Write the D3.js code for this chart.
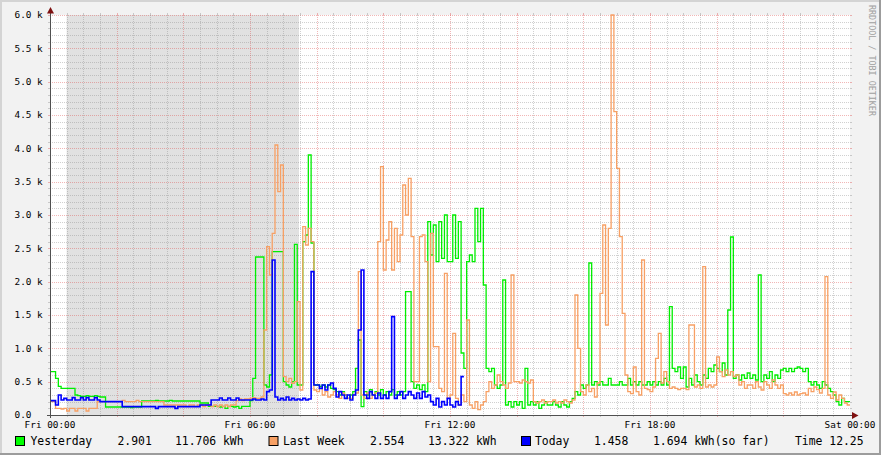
<!DOCTYPE html>
<html><head><meta charset="utf-8">
<script src="https://cdn.jsdelivr.net/npm/d3@7/dist/d3.min.js"></script>
<style>html,body{margin:0;padding:0;background:#f2f2f2}svg{display:block}</style>
</head><body>
<svg id="chart" width="881" height="455"></svg>
<script>
// ---- data (watts, one value per 5 minutes; rows = hours) ----
const yesterday = [
 650,650,550,430,400,400,400,400,400,300,290,280,
 280,290,280,280,290,280,270,270,120,120,120,120,
 120,120,120,120,120,110,120,120,120,210,210,210,
 210,210,220,210,210,210,210,220,210,210,210,210,
 210,210,210,210,210,210,180,180,180,130,130,130,
 130,120,130,100,130,130,120,130,100,130,130,130,
 215,550,2370,2370,2370,450,420,600,2450,2450,2450,2450,
 500,450,420,500,2560,450,450,2600,2700,3900,2580,450,
 450,430,450,420,450,400,380,350,300,350,300,250,
 300,350,700,1125,125,350,300,380,300,350,300,380,
 300,350,300,380,300,350,300,350,1850,1850,500,400,
 450,380,450,350,2900,2400,2850,2300,2900,2350,3000,2300,
 2300,3000,2350,2900,930,700,2300,2400,2300,3100,2600,3100,
 1950,700,650,700,450,400,450,2025,150,200,120,200,
 150,200,100,700,150,200,150,200,100,150,200,150,
 150,200,150,120,200,150,120,200,250,350,300,450,
 400,450,2280,450,500,450,500,450,450,550,450,450,
 450,500,450,450,550,450,500,450,500,450,450,500,
 450,500,450,500,450,550,450,1625,700,650,720,550,
 720,420,550,450,600,500,450,600,550,700,650,750,
 700,650,780,600,1575,2670,550,600,525,600,550,630,
 550,600,525,2100,500,600,550,650,500,600,550,675,
 700,650,700,650,700,720,700,650,700,500,450,500,
 450,400,500,450,400,350,300,200,150,250,200,200
];
const lastWeek = [
 200,200,100,100,90,100,60,100,100,60,100,100,
 100,60,100,100,100,200,200,200,200,200,200,200,
 200,200,220,200,200,200,200,220,200,200,200,200,
 200,200,200,200,200,150,150,150,150,150,150,150,
 150,125,150,150,125,150,150,125,150,150,125,150,
 125,150,125,150,125,150,150,215,240,215,240,240,
 250,260,250,250,270,1275,2525,2100,2725,4050,3350,3750,
 575,500,550,475,500,1700,375,2825,2550,2800,2600,375,
 350,400,300,350,270,300,350,300,250,330,300,250,
 250,300,330,2150,300,250,330,250,300,330,2600,3725,
 2175,2625,2900,2175,2800,2300,2700,3450,3000,3550,2675,500,
 500,2675,2700,2300,500,2725,1025,1025,400,350,2125,250,
 300,1225,250,150,300,200,1425,150,100,200,80,150,
 200,350,500,400,450,600,500,450,400,480,2100,500,
 500,480,525,500,480,525,200,180,200,225,180,200,
 200,225,180,200,180,225,200,180,225,1800,1000,350,
 300,450,350,400,270,480,1825,2850,1350,2800,6000,4550,
 3700,2675,1525,600,350,320,720,350,300,2325,400,380,
 350,420,850,1225,480,650,500,400,420,400,380,400,
 400,380,1350,1350,420,450,400,2225,420,450,420,450,
 870,650,575,675,600,650,575,600,450,500,400,450,
 450,400,500,420,375,500,450,400,525,450,400,450,
 320,300,330,300,345,300,320,330,300,400,350,420,
 380,330,400,2075,300,250,345,225,300,250,180,150
];
const today = [
 215,215,150,300,225,250,225,225,260,225,225,260,
 225,260,225,225,260,225,200,200,200,200,200,200,
 200,200,125,125,125,125,125,125,125,125,125,125,
 125,125,100,125,125,125,125,125,125,100,125,125,
 125,125,125,125,125,125,150,150,150,150,225,225,
 225,255,225,225,255,225,225,255,225,225,225,225,
 225,240,225,225,240,225,350,375,2325,270,225,250,
 225,270,225,250,225,240,225,250,225,240,2150,450,
 450,400,450,375,450,480,400,270,350,300,250,300,
 225,300,375,1275,2175,300,250,350,300,250,330,250,
 300,250,350,1475,250,300,350,250,300,350,300,250,
 330,250,350,270,300,200,150,250,120,200,150,250,
 150,120,200,150,575
];
const stepHours = 5 / 60;
const nightShade = [0.5, 7.47];             // hours
const yTickValues = [0,500,1000,1500,2000,2500,3000,3500,4000,4500,5000,5500,6000];
const yTickLabels = ["0.0","0.5 k","1.0 k","1.5 k","2.0 k","2.5 k","3.0 k","3.5 k","4.0 k","4.5 k","5.0 k","5.5 k","6.0 k"];
const xTickHours = [0,6,12,18,24];
const xTickLabels = ["Fri 00:00","Fri 06:00","Fri 12:00","Fri 18:00","Sat 00:00"];
const seriesNames = ["Yesterday","Last Week","Today"];
const seriesColors = ["#00ee00","#f7a064","#0000ff"];
const legendColors = ["#00ff00","#f7a064","#0000ff"];
const legendValues = [["2.901","11.706 kWh"],["2.554","13.322 kWh"],["1.458","1.694 kWh(so far)"]];
const timeLabel = "Time 12.25";
const watermark = "RRDTOOL / TOBI OETIKER";

// ---- drawing ----
const W = 881, H = 455;
const svg = d3.select("#chart");
const mono = "'DejaVu Sans Mono', monospace";
const x = d3.scaleLinear().domain([0, 24]).range([50, 850]);
const y = d3.scaleLinear().domain([0, 6000]).range([415, 15]);

// background + 3D border
svg.append("rect").attr("width", W).attr("height", H).attr("fill", "#f2f2f2");
svg.append("path").attr("d", `M0,0H${W}V2H2V${H}H0Z`).attr("fill", "#d4d4d4");
svg.append("path").attr("d", `M${W},${H}H0V${H-2}H${W-2}V0H${W}Z`).attr("fill", "#9c9c9c");

// canvas
svg.append("rect").attr("x", x(0)).attr("y", y(6000)).attr("width", x(24) - x(0)).attr("height", y(0) - y(6000)).attr("fill", "#ffffff");
// night shading
svg.append("rect").attr("x", x(nightShade[0])).attr("y", y(6000))
  .attr("width", x(nightShade[1]) - x(nightShade[0])).attr("height", y(0) - y(6000)).attr("fill", "#e1e1e1");

const px = v => Math.round(v) + 0.5;
const minorCol = "rgba(143,143,143,0.42)", majorCol = "rgba(222,80,80,0.42)";
const g = svg.append("g");
// horizontal grid
d3.range(100, 6001, 100).forEach(v => {
  const major = v % 500 === 0;
  const yy = px(y(v));
  const c = major ? majorCol : minorCol;
  g.append("line").attr("x1", x(0)).attr("x2", x(24)).attr("y1", yy).attr("y2", yy)
    .attr("stroke", c).attr("stroke-dasharray", "1,1");
  g.append("line").attr("x1", x(0) - 2).attr("x2", x(0)).attr("y1", yy).attr("y2", yy).attr("stroke", c);
  g.append("line").attr("x1", x(24)).attr("x2", x(24) + 2).attr("y1", yy).attr("y2", yy).attr("stroke", c);
});
// vertical grid
d3.range(1, 48).forEach(k => {
  const h = k / 2, major = k % 4 === 0;
  const xx = px(x(h));
  const c = major ? majorCol : minorCol;
  g.append("line").attr("x1", xx).attr("x2", xx).attr("y1", y(6000)).attr("y2", y(0))
    .attr("stroke", c).attr("stroke-dasharray", "1,1");
  g.append("line").attr("x1", xx).attr("x2", xx).attr("y1", y(0)).attr("y2", y(0) + 2).attr("stroke", c);
  g.append("line").attr("x1", xx).attr("x2", xx).attr("y1", y(6000) - 2).attr("y2", y(6000)).attr("stroke", c);
});

// series
const line = d3.line().x(d => x(d[0])).y(d => y(d[1])).curve(d3.curveStepAfter);
function pts(arr) {
  const p = arr.map((v, i) => [i * stepHours, v]);
  p.push([arr.length * stepHours, arr[arr.length - 1]]);
  return p;
}
[yesterday, lastWeek, today].forEach((arr, i) => {
  svg.append("path").attr("d", line(pts(arr))).attr("fill", "none")
    .attr("stroke", seriesColors[i]).attr("stroke-width", i === 2 ? 1.6 : 1.3)
    .attr("stroke-linejoin", "miter");
});

// axes
svg.append("line").attr("x1", 47).attr("x2", 853).attr("y1", px(y(0))).attr("y2", px(y(0))).attr("stroke", "#505050");
svg.append("line").attr("x1", px(x(0))).attr("x2", px(x(0))).attr("y1", 418).attr("y2", 12).attr("stroke", "#505050");
svg.append("path").attr("d", `M${px(x(0)) - 3.5},13.5L${px(x(0))},7L${px(x(0)) + 3.5},13.5Z`).attr("fill", "#7f1010");
svg.append("path").attr("d", `M852,${px(y(0)) - 3.5}L858.5,${px(y(0))}L852,${px(y(0)) + 3.5}Z`).attr("fill", "#7f1010");

// y labels
yTickValues.forEach((v, i) => {
  svg.append("text").attr("x", 14.5).attr("y", y(v) + 3.3).text(yTickLabels[i])
    .attr("font-family", mono).attr("font-size", "9.4px").attr("fill", "#000");
});
// x labels
xTickHours.forEach((h, i) => {
  svg.append("text").attr("x", x(h)).attr("y", 427.5).attr("text-anchor", "middle").text(xTickLabels[i])
    .attr("font-family", mono).attr("font-size", "9.4px").attr("fill", "#000");
});

// legend
const legX = [[15, 30.5, 117.5, 175], [268.5, 283, 370, 428], [521, 535, 594, 653]];
const lt = (xx, s) => svg.append("text").attr("x", xx).attr("y", 445).text(s)
  .attr("font-family", mono).attr("font-size", "11.4px").attr("fill", "#000");
seriesNames.forEach((n, i) => {
  svg.append("rect").attr("x", legX[i][0] + 0.5).attr("y", 436.5).attr("width", 9).attr("height", 9)
    .attr("fill", legendColors[i]).attr("stroke", "#000");
  lt(legX[i][1], n);
  lt(legX[i][2], legendValues[i][0]);
  lt(legX[i][3], legendValues[i][1]);
});
lt(795, timeLabel);

// watermark
svg.append("text").attr("transform", "translate(869,5) rotate(90)").text(watermark)
  .attr("font-family", mono).attr("font-size", "8.4px").attr("fill", "#a0a0a0");
</script>
</body></html>
